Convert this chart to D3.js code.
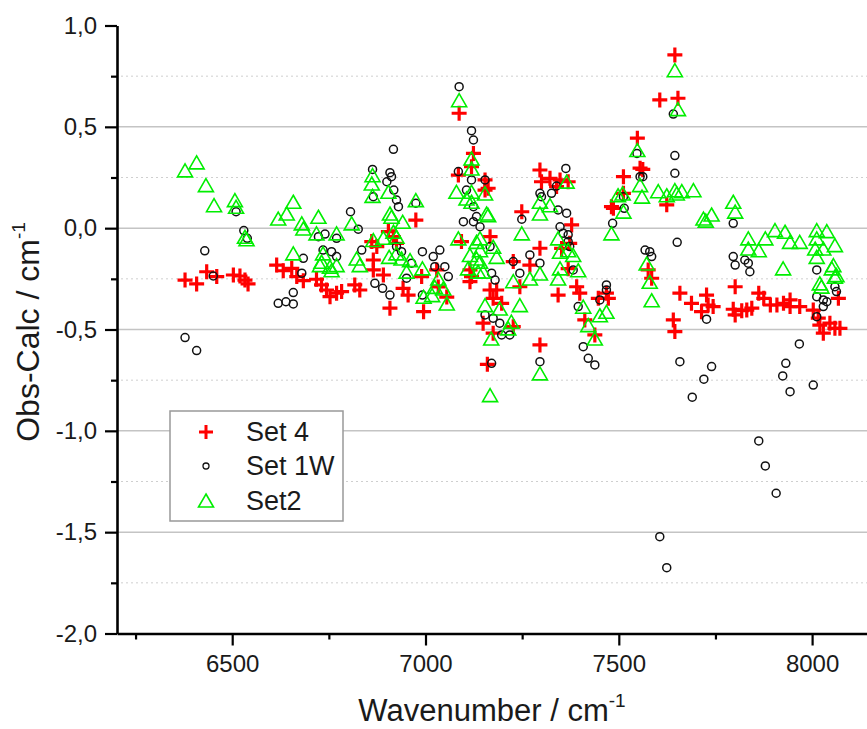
<!DOCTYPE html>
<html><head><meta charset="utf-8">
<script src="https://cdn.jsdelivr.net/npm/d3@7"></script>
<style>
body{margin:0;background:#fff;}
svg{display:block;font-family:"Liberation Sans",Arial,sans-serif;}
</style>
</head><body>
<svg id="c" width="867" height="729"></svg>
<script>
// ---- data (wavenumber, Obs-Calc) ----
const seriesNames = ["Set 4", "Set 1W", "Set2"];
const set4 = [
[6378,-0.256],[6408,-0.275],[6434,-0.215],[6460,-0.239],[6503,-0.231],[6520,-0.236],[6533,-0.256],[6541,-0.275],
[6615,-0.182],[6632,-0.21],[6654,-0.198],[6667,-0.239],[6684,-0.259],[6718,-0.252],[6731,-0.28],[6744,-0.305],
[6753,-0.338],[6770,-0.321],[6783,-0.313],[6817,-0.28],[6830,-0.305],[6861,-0.066],[6874,-0.091],[6865,-0.157],
[6865,-0.206],[6891,-0.231],[6904,-0.017],[6917,-0.042],[6925,-0.075],[6908,-0.395],[6942,-0.297],[6955,-0.33],
[6975,0.04],[6990,-0.239],[6995,-0.412],[7029,-0.206],[7033,-0.29],[7055,-0.34],[7085,0.262],[7087,0.567],
[7093,-0.066],[7115,-0.206],[7115,-0.264],[7119,0.303],[7124,0.369],[7119,-0.239],[7154,0.238],[7154,0.188],
[7162,0.197],[7167,-0.042],[7167,-0.305],[7184,-0.305],[7175,-0.346],[7197,-0.371],[7149,-0.469],[7175,-0.518],
[7160,-0.672],[7227,-0.486],[7227,-0.165],[7244,-0.289],[7249,0.081],[7270,-0.182],[7296,-0.099],[7296,-0.576],
[7296,0.287],[7300,0.229],[7322,0.246],[7339,0.205],[7348,0.238],[7369,0.229],[7378,0.016],[7373,-0.075],
[7352,-0.1],[7369,-0.2],[7343,-0.33],[7391,-0.289],[7399,-0.321],[7412,-0.453],[7438,-0.527],[7447,-0.346],
[7473,-0.346],[7468,-0.321],[7481,0.106],[7486,0.098],[7512,0.254],[7512,0.172],[7548,0.444],[7555,0.296],
[7562,0.29],[7624,0.115],[7606,0.633],[7645,0.855],[7653,0.641],[7576,-0.206],[7585,-0.247],[7641,-0.453],
[7645,-0.51],[7658,-0.321],[7688,-0.371],[7727,-0.33],[7731,-0.379],[7744,-0.387],[7714,-0.412],[7801,-0.289],
[7796,-0.4],[7801,-0.428],[7818,-0.407],[7831,-0.404],[7844,-0.395],[7862,-0.321],[7875,-0.346],[7892,-0.379],
[7909,-0.379],[7926,-0.371],[7943,-0.354],[7943,-0.387],[7968,-0.387],[8003,-0.404],[8016,-0.444],[8020,-0.478],
[8029,-0.518],[8046,-0.469],[8068,-0.346],[8059,-0.494],[8072,-0.494]
];
const set1W = [
[6378,-0.54],[6408,-0.604],[6429,-0.112],[6451,-0.236],[6510,0.081],[6530,-0.012],[6539,-0.05],[6619,-0.371],
[6639,-0.363],[6658,-0.374],[6658,-0.318],[6680,-0.222],[6684,-0.149],[6723,-0.042],[6740,-0.029],[6770,-0.05],
[6735,-0.108],[6757,-0.116],[6770,-0.14],[6806,0.081],[6826,-0.005],[6835,-0.108],[6863,0.29],[6865,0.155],
[6900,0.229],[6908,0.274],[6912,0.254],[6917,0.389],[6918,0.188],[6925,0.139],[6930,0.106],[6975,0.123],
[6869,-0.272],[6889,-0.297],[6908,-0.33],[6925,-0.091],[6938,-0.116],[6951,-0.247],[6964,-0.173],[6992,-0.116],
[7020,-0.14],[7037,-0.108],[7024,-0.19],[7050,-0.19],[7059,-0.239],[6992,-0.33],[7085,0.279],[7087,0.698],
[7106,0.188],[7119,0.481],[7124,0.435],[7119,0.238],[7154,0.238],[7098,0.032],[7124,0.032],[7141,0.007],
[7124,0.106],[7132,0.057],[7167,-0.091],[7171,-0.222],[7180,-0.256],[7154,-0.428],[7175,-0.444],[7192,-0.469],
[7197,-0.527],[7218,-0.527],[7171,-0.667],[7249,0.044],[7270,-0.132],[7227,-0.165],[7244,-0.222],[7296,-0.173],
[7296,-0.659],[7296,0.172],[7300,0.155],[7326,0.172],[7339,0.208],[7363,0.295],[7343,0.09],[7365,0.074],
[7348,0.007],[7356,-0.025],[7369,-0.033],[7369,-0.066],[7373,-0.091],[7382,-0.206],[7395,-0.387],[7408,-0.585],
[7421,-0.642],[7438,-0.675],[7468,-0.28],[7468,-0.305],[7451,-0.354],[7484,0.024],[7514,0.098],[7512,0.155],
[7547,0.369],[7555,0.254],[7562,0.254],[7641,0.563],[7645,0.358],[7645,0.271],[7651,-0.07],[7568,-0.108],
[7580,-0.116],[7585,-0.14],[7606,-1.522],[7624,-1.675],[7658,-0.659],[7690,-0.834],[7720,-0.745],[7740,-0.683],
[7727,-0.449],[7796,0.024],[7796,-0.14],[7801,-0.182],[7826,-0.157],[7835,-0.173],[7839,-0.215],[7862,-1.05],
[7879,-1.173],[7907,-1.308],[7924,-0.729],[7932,-0.667],[7943,-0.807],[7967,-0.571],[8003,-0.774],[8012,-0.206],
[8012,-0.338],[8029,-0.354],[8038,-0.363],[8029,-0.387],[8012,-0.437],[8059,-0.289],[8063,-0.313]
];
const set2 = [
[6378,0.278],[6408,0.317],[6432,0.205],[6453,0.106],[6507,0.131],[6510,0.098],[6533,-0.05],[6537,-0.062],
[6619,0.04],[6641,0.065],[6658,0.123],[6680,0.016],[6684,-0.009],[6723,0.049],[6718,-0.033],[6770,-0.033],
[6658,-0.132],[6735,-0.132],[6731,-0.173],[6753,-0.198],[6757,-0.215],[6727,-0.19],[6809,0.016],[6770,-0.19],
[6822,-0.157],[6830,-0.19],[6863,0.254],[6861,0.213],[6863,0.152],[6904,0.172],[6975,0.131],[6908,0.065],
[6912,0.049],[6941,0.024],[6865,-0.066],[6891,-0.055],[6917,-0.025],[6925,-0.05],[6906,-0.149],[6925,-0.132],
[6938,-0.157],[6960,-0.165],[6951,-0.222],[6992,-0.206],[7017,-0.338],[7033,-0.256],[7024,-0.297],[7046,-0.305],
[6995,-0.346],[7055,-0.379],[7085,-0.058],[7080,0.172],[7087,0.624],[7106,0.139],[7119,0.336],[7119,0.287],
[7119,0.123],[7154,0.164],[7158,0.065],[7162,0.057],[7119,0.172],[7132,-0.075],[7141,-0.116],[7115,-0.14],
[7141,-0.173],[7110,-0.206],[7136,-0.222],[7141,-0.058],[7175,-0.099],[7184,-0.149],[7132,-0.157],[7149,-0.222],
[7154,-0.387],[7170,-0.552],[7192,-0.404],[7222,-0.469],[7214,-0.502],[7167,-0.831],[7249,-0.033],[7227,-0.269],
[7270,-0.256],[7296,-0.231],[7244,-0.387],[7296,-0.724],[7296,0.065],[7296,0.123],[7322,0.106],[7365,0.222],
[7343,-0.058],[7348,-0.124],[7348,-0.206],[7369,-0.116],[7382,-0.14],[7395,-0.215],[7343,-0.256],[7408,-0.395],
[7421,-0.486],[7438,-0.552],[7451,-0.437],[7468,-0.42],[7481,-0.033],[7498,0.155],[7510,0.164],[7512,0.074],
[7548,0.378],[7555,0.205],[7560,0.148],[7572,-0.182],[7580,-0.272],[7585,-0.363],[7602,0.175],[7624,0.155],
[7645,0.18],[7650,0.164],[7663,0.175],[7693,0.18],[7645,0.772],[7653,0.58],[7719,0.04],[7740,0.06],
[7725,0.03],[7796,0.123],[7801,0.074],[7835,-0.058],[7835,-0.108],[7862,-0.116],[7879,-0.058],[7904,-0.017],
[7930,-0.025],[7943,-0.075],[7968,-0.075],[7925,-0.206],[8012,-0.017],[8012,-0.058],[8038,-0.022],[8008,-0.108],
[8012,-0.149],[8059,-0.091],[8051,-0.206],[8059,-0.247],[8029,-0.108],[8020,-0.28],[8055,-0.19],[8063,-0.239],
[8024,-0.296]
];
const xMajorTicks = [6500, 7000, 7500, 8000];
const xMinorTicks = [6250, 6750, 7250, 7750];
const yMajorTicks = [-2.0, -1.5, -1.0, -0.5, 0.0, 0.5, 1.0];
const yMinorTicks = [-1.75, -1.25, -0.75, -0.25, 0.25, 0.75];
const xTitle = "Wavenumber / cm";
const yTitle = "Obs-Calc / cm";

// ---- layout ----
const svg = d3.select("#c");
const L = 117, R = 867, T = 25.5, B = 633.5;
const x = d3.scaleLinear().domain([6202, 8142]).range([L, R]);
const y = d3.scaleLinear().domain([-2, 1]).range([B, T]);
const fmt = d => d.toFixed(1).replace(".", ",");

// grid
const grid = svg.append("g");
grid.selectAll(".maj").data(yMajorTicks.filter(v => v > -2 && v < 1)).join("line")
  .attr("x1", L).attr("x2", R).attr("y1", d => y(d)).attr("y2", d => y(d))
  .attr("stroke", "#c4c4c4").attr("stroke-width", 1.5);
grid.selectAll(".min").data(yMinorTicks).join("line")
  .attr("x1", L + 4).attr("x2", R).attr("y1", d => y(d)).attr("y2", d => y(d))
  .attr("stroke", "#cfcfcf").attr("stroke-width", 1).attr("stroke-dasharray", "2,3");

// markers
const plusPath = "M-7.5,0H7.5M0,-7.5V7.5";
const triPath = "M0,-8L7.5,5L-7.5,5Z";
const marks = svg.append("g");
marks.selectAll(".s4").data(set4).join("path")
  .attr("d", plusPath).attr("transform", d => `translate(${x(d[0])},${y(d[1])})`)
  .attr("stroke", "#ff0000").attr("stroke-width", 3.2).attr("fill", "none");
marks.selectAll(".s1").data(set1W).join("circle")
  .attr("cx", d => x(d[0])).attr("cy", d => y(d[1])).attr("r", 4)
  .attr("stroke", "#111").attr("stroke-width", 1.5).attr("fill", "none");
marks.selectAll(".s2").data(set2).join("path")
  .attr("d", triPath).attr("transform", d => `translate(${x(d[0])},${y(d[1])})`)
  .attr("stroke", "#00ee00").attr("stroke-width", 1.6).attr("fill", "none");

// axes
const axFont = "24px";
const gx = svg.append("g").attr("transform", `translate(0,${B})`)
  .call(d3.axisBottom(x).tickValues(xMajorTicks).tickFormat(d3.format("d")).tickSize(12).tickSizeOuter(0).tickPadding(9));
const gxm = svg.append("g").attr("transform", `translate(0,${B})`)
  .call(d3.axisBottom(x).tickValues(xMinorTicks).tickFormat("").tickSize(6).tickSizeOuter(0));
const gy = svg.append("g").attr("transform", `translate(${L},0)`)
  .call(d3.axisLeft(y).tickValues(yMajorTicks).tickFormat(fmt).tickSize(12).tickSizeOuter(0).tickPadding(8));
const gym = svg.append("g").attr("transform", `translate(${L},0)`)
  .call(d3.axisLeft(y).tickValues(yMinorTicks).tickFormat("").tickSize(6).tickSizeOuter(0));
[gx, gxm, gy, gym].forEach(g => {
  g.select(".domain").attr("stroke", "#000").attr("stroke-width", 2.6);
  g.selectAll(".tick line").attr("stroke", "#000").attr("stroke-width", 2.2);
  g.selectAll("text").attr("font-size", axFont).attr("fill", "#1a1a1a")
    .attr("font-family", '"Liberation Sans", Arial, sans-serif');
});
gxm.select(".domain").remove();
gym.select(".domain").remove();

// titles
const xt = svg.append("text").attr("x", 492).attr("y", 721).attr("text-anchor", "middle")
  .attr("font-size", 31).attr("fill", "#1a1a1a");
xt.append("tspan").text(xTitle);
xt.append("tspan").text("-1").attr("font-size", 19).attr("dy", -14);
const yt = svg.append("text").attr("transform", "translate(39,332) rotate(-90)").attr("text-anchor", "middle")
  .attr("font-size", 32).attr("fill", "#1a1a1a");
yt.append("tspan").text(yTitle);
yt.append("tspan").text("-1").attr("font-size", 19).attr("dy", -14);

// legend
const lg = svg.append("g");
lg.append("rect").attr("x", 170).attr("y", 411).attr("width", 173).attr("height", 110)
  .attr("fill", "#fff").attr("stroke", "#999").attr("stroke-width", 1.5);
const ly = [432, 466, 501];
const items = lg.selectAll(".it").data(seriesNames).join("g")
  .attr("transform", (d, i) => `translate(206,${ly[i]})`);
items.each(function(d, i) {
  const g = d3.select(this);
  if (i === 0) g.append("path").attr("d", "M-7,0H7M0,-7V7").attr("stroke", "#ff0000").attr("stroke-width", 3).attr("fill", "none");
  if (i === 1) g.append("circle").attr("r", 3).attr("stroke", "#111").attr("stroke-width", 1.3).attr("fill", "none");
  if (i === 2) g.append("path").attr("d", "M0,-7L7.5,6L-7.5,6Z").attr("stroke", "#00ee00").attr("stroke-width", 1.6).attr("fill", "none");
  g.append("text").attr("x", 40).attr("y", 9).attr("font-size", 27).attr("fill", "#1a1a1a").text(d);
});
</script>
</body></html>
